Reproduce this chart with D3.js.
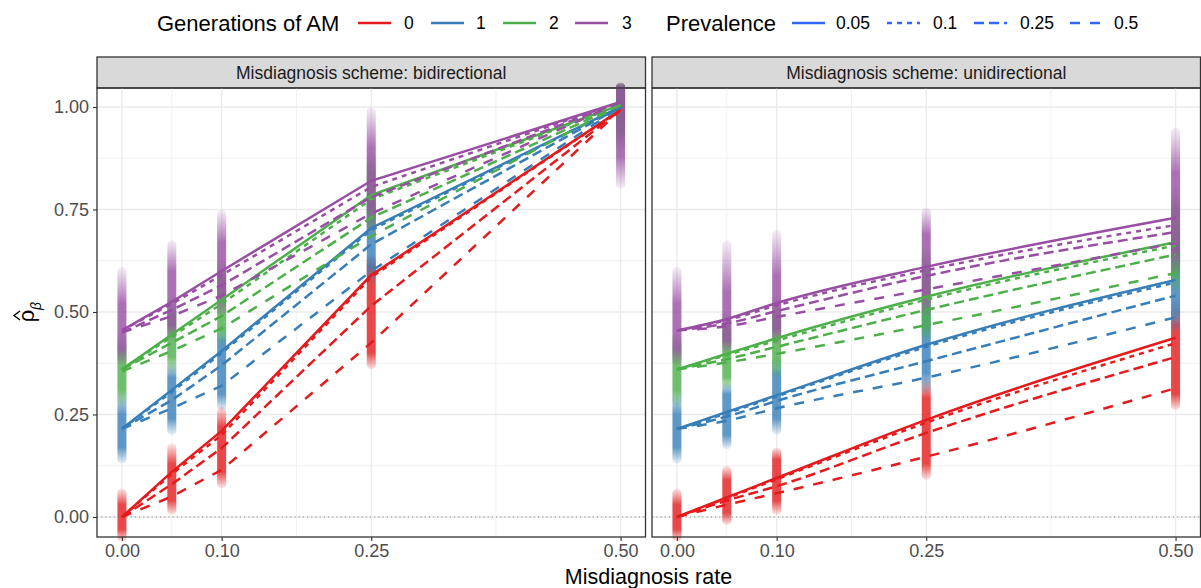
<!DOCTYPE html>
<html>
<head>
<meta charset="utf-8">
<script src="https://cdn.jsdelivr.net/npm/d3@7"></script>
<style>
  body { margin: 0; background: #fff; }
  text { font-family: "Liberation Sans", Arial, sans-serif; }
</style>
</head>
<body>
<script>
// categories
var misRates = [0, 0.05, 0.1, 0.25, 0.5];
var generations = ["0", "1", "2", "3"];
var prevalences = ["0.05", "0.1", "0.25", "0.5"];
var schemes = ["bidirectional", "unidirectional"];
var yTicks = [0, 0.25, 0.5, 0.75, 1];
var xTicks = [0, 0.1, 0.25, 0.5];
var xMinor = [0.05, 0.175, 0.375];
var yMinor = [0.125, 0.375, 0.625, 0.875];

// mean estimate per misdiagnosis rate, [generation][prevalence]
var bidirectional = [
  [[0, 0.110, 0.210, 0.590, 0.993], [0, 0.105, 0.200, 0.585, 0.993], [0, 0.080, 0.168, 0.515, 0.993], [0, 0.050, 0.115, 0.425, 0.993]],
  [[0.215, 0.310, 0.405, 0.705, 1.0], [0.215, 0.305, 0.400, 0.700, 1.0], [0.215, 0.285, 0.370, 0.665, 1.0], [0.215, 0.265, 0.320, 0.600, 1.0]],
  [[0.360, 0.445, 0.530, 0.785, 1.005], [0.360, 0.440, 0.520, 0.775, 1.005], [0.360, 0.425, 0.490, 0.730, 1.005], [0.355, 0.405, 0.460, 0.685, 1.005]],
  [[0.455, 0.525, 0.600, 0.820, 1.012], [0.455, 0.520, 0.590, 0.805, 1.012], [0.450, 0.505, 0.565, 0.780, 1.012], [0.450, 0.490, 0.540, 0.740, 1.012]]
];
var unidirectional = [
  [[0, 0.048, 0.095, 0.237, 0.437], [0, 0.046, 0.092, 0.230, 0.424], [0, 0.040, 0.075, 0.205, 0.390], [0, 0.030, 0.058, 0.147, 0.314]],
  [[0.215, 0.256, 0.297, 0.420, 0.578], [0.215, 0.253, 0.294, 0.415, 0.572], [0.215, 0.245, 0.283, 0.380, 0.540], [0.215, 0.235, 0.265, 0.340, 0.487]],
  [[0.360, 0.398, 0.436, 0.537, 0.670], [0.360, 0.395, 0.430, 0.530, 0.662], [0.360, 0.385, 0.415, 0.505, 0.640], [0.360, 0.377, 0.398, 0.468, 0.595]],
  [[0.455, 0.483, 0.522, 0.610, 0.730], [0.455, 0.480, 0.516, 0.602, 0.712], [0.455, 0.472, 0.502, 0.588, 0.695], [0.455, 0.465, 0.488, 0.555, 0.668]]
];

// spread of replicate estimates: [min, low, high, max] per generation and rate
var bidirectionalSpread = [
  [[-0.05, -0.03, 0.03, 0.06], [0.015, 0.04, 0.13, 0.17], [0.08, 0.11, 0.22, 0.26], [0.37, 0.40, 0.61, 0.63], [0.95, 0.97, 1.03, 1.05]],
  [[0.14, 0.17, 0.25, 0.30], [0.21, 0.24, 0.34, 0.37], [0.27, 0.30, 0.43, 0.46], [0.58, 0.61, 0.75, 0.79], [0.93, 0.96, 1.04, 1.05]],
  [[0.28, 0.31, 0.40, 0.44], [0.36, 0.39, 0.49, 0.53], [0.43, 0.46, 0.58, 0.62], [0.70, 0.73, 0.84, 0.88], [0.90, 0.94, 1.05, 1.05]],
  [[0.38, 0.41, 0.52, 0.60], [0.44, 0.47, 0.60, 0.665], [0.50, 0.54, 0.67, 0.74], [0.70, 0.76, 0.90, 0.99], [0.81, 0.88, 1.05, 1.05]]
];
var unidirectionalSpread = [
  [[-0.05, -0.03, 0.03, 0.06], [-0.01, 0.01, 0.09, 0.115], [0.015, 0.04, 0.14, 0.16], [0.10, 0.13, 0.29, 0.33], [0.27, 0.30, 0.47, 0.52]],
  [[0.14, 0.17, 0.25, 0.30], [0.175, 0.20, 0.30, 0.32], [0.21, 0.24, 0.35, 0.38], [0.31, 0.35, 0.50, 0.54], [0.46, 0.50, 0.66, 0.70]],
  [[0.28, 0.31, 0.40, 0.44], [0.32, 0.34, 0.45, 0.49], [0.35, 0.38, 0.49, 0.53], [0.44, 0.47, 0.60, 0.65], [0.56, 0.60, 0.74, 0.79]],
  [[0.38, 0.41, 0.52, 0.60], [0.41, 0.43, 0.55, 0.665], [0.43, 0.46, 0.59, 0.69], [0.50, 0.54, 0.69, 0.745], [0.60, 0.65, 0.84, 0.94]]
];

var means = { bidirectional: bidirectional, unidirectional: unidirectional };
var spreads = { bidirectional: bidirectionalSpread, unidirectional: unidirectionalSpread };

var genColor = d3.scaleOrdinal().domain(generations).range(["#E41A1C", "#377EB8", "#4DAF4A", "#984EA3"]);
var dashes = d3.scaleOrdinal().domain(prevalences).range(["none", "5,5", "10,5", "10,10"]);

var svg = d3.select("body").append("svg")
  .attr("width", 1201)
  .attr("height", 588);
var defs = svg.append("defs");

var panelTop = 88, panelBottom = 537;
var y = d3.scaleLinear().domain([-0.0488, 1.0463]).range([panelBottom, panelTop]);

var panels = [
  { scheme: "bidirectional", x0: 97, x1: 645.5, curve: d3.curveLinear },
  { scheme: "unidirectional", x0: 652, x1: 1200.5, curve: d3.curveMonotoneX }
];

panels.forEach(function(p, pi) {
  var x = d3.scaleLinear().domain([-0.025, 0.525]).range([p.x0, p.x1]);
  var g = svg.append("g");

  // strip
  g.append("rect")
    .attr("x", p.x0).attr("y", 57)
    .attr("width", p.x1 - p.x0).attr("height", panelTop - 57)
    .attr("fill", "#D9D9D9").attr("stroke", "#333333").attr("stroke-width", 1.3);
  g.append("text")
    .attr("x", (p.x0 + p.x1) / 2).attr("y", 78.5)
    .attr("text-anchor", "middle")
    .attr("font-size", 17.5).attr("fill", "#1A1A1A")
    .text("Misdiagnosis scheme: " + p.scheme);

  // grid
  g.selectAll(".ymin").data(yMinor).enter().append("line")
    .attr("x1", p.x0).attr("x2", p.x1)
    .attr("y1", d => y(d)).attr("y2", d => y(d))
    .attr("stroke", "#EBEBEB").attr("stroke-width", 0.7);
  g.selectAll(".xmin").data(xMinor).enter().append("line")
    .attr("y1", panelTop).attr("y2", panelBottom)
    .attr("x1", d => x(d)).attr("x2", d => x(d))
    .attr("stroke", "#EBEBEB").attr("stroke-width", 0.7);
  g.selectAll(".ymaj").data(yTicks).enter().append("line")
    .attr("x1", p.x0).attr("x2", p.x1)
    .attr("y1", d => y(d)).attr("y2", d => y(d))
    .attr("stroke", "#EBEBEB").attr("stroke-width", 1.4);
  g.selectAll(".xmaj").data(xTicks).enter().append("line")
    .attr("y1", panelTop).attr("y2", panelBottom)
    .attr("x1", d => x(d)).attr("x2", d => x(d))
    .attr("stroke", "#EBEBEB").attr("stroke-width", 1.4);

  // replicate estimates (density bands)
  var spread = spreads[p.scheme];
  generations.forEach(function(gen, gi) {
    misRates.forEach(function(r, ri) {
      var s = spread[gi][ri];
      var top = y(s[3]) - 4, bot = y(s[0]) + 4, h = bot - top;
      var id = "gr" + pi + "_" + gi + "_" + ri;
      var grad = defs.append("linearGradient").attr("id", id)
        .attr("x1", 0).attr("x2", 0).attr("y1", 0).attr("y2", 1);
      var c = genColor(gen);
      grad.append("stop").attr("offset", 0).attr("stop-color", c).attr("stop-opacity", 0.08);
      grad.append("stop").attr("offset", (y(s[2]) - top) / h).attr("stop-color", c).attr("stop-opacity", 0.8);
      grad.append("stop").attr("offset", (y(s[1]) - top) / h).attr("stop-color", c).attr("stop-opacity", 0.8);
      grad.append("stop").attr("offset", 1).attr("stop-color", c).attr("stop-opacity", 0.08);
      g.append("rect")
        .attr("x", x(r) - 4.5).attr("width", 9)
        .attr("y", top).attr("height", h)
        .attr("rx", 4.5)
        .attr("fill", "url(#" + id + ")");
    });
  });

  // zero reference
  g.append("line")
    .attr("x1", p.x0).attr("x2", p.x1)
    .attr("y1", y(0)).attr("y2", y(0))
    .attr("stroke", "#8C8C8C").attr("stroke-width", 1)
    .attr("stroke-dasharray", "1.2,3");

  // mean lines
  var line = d3.line()
    .x((d, i) => x(misRates[i]))
    .y(d => y(d))
    .curve(p.curve);
  var m = means[p.scheme];
  generations.forEach(function(gen, gi) {
    prevalences.forEach(function(pr, k) {
      g.append("path")
        .datum(m[gi][k])
        .attr("d", line)
        .attr("fill", "none")
        .attr("stroke", genColor(gen))
        .attr("stroke-width", 2.5)
        .attr("stroke-dasharray", dashes(pr));
    });
  });

  // border
  g.append("rect")
    .attr("x", p.x0).attr("y", panelTop)
    .attr("width", p.x1 - p.x0).attr("height", panelBottom - panelTop)
    .attr("fill", "none").attr("stroke", "#333333").attr("stroke-width", 1.3);

  // x axis
  var xa = g.append("g")
    .attr("transform", "translate(0," + panelBottom + ")")
    .call(d3.axisBottom(x).tickValues(xTicks).tickFormat(d3.format(".2f")).tickSize(4).tickPadding(3));
  xa.select(".domain").remove();
  xa.selectAll("line").attr("stroke", "#333333").attr("stroke-width", 1.1);
  xa.selectAll("text").attr("font-size", 18).attr("fill", "#4D4D4D")
    .attr("font-family", "Liberation Sans, Arial, sans-serif");

  if (pi === 0) {
    var ya = g.append("g")
      .attr("transform", "translate(" + p.x0 + ",0)")
      .call(d3.axisLeft(y).tickValues(yTicks).tickFormat(d3.format(".2f")).tickSize(4).tickPadding(4));
    ya.select(".domain").remove();
    ya.selectAll("line").attr("stroke", "#333333").attr("stroke-width", 1.1);
    ya.selectAll("text").attr("font-size", 18).attr("fill", "#4D4D4D")
      .attr("font-family", "Liberation Sans, Arial, sans-serif");
  }
});

// axis titles
svg.append("text")
  .attr("x", 648.5).attr("y", 584)
  .attr("text-anchor", "middle")
  .attr("font-size", 21.5)
  .text("Misdiagnosis rate");

var yt = svg.append("g").attr("transform", "translate(34,316) rotate(-90)");
yt.append("text")
  .attr("x", 0).attr("y", 0)
  .attr("text-anchor", "middle")
  .attr("font-size", 22)
  .text("ρ");
yt.append("path")
  .attr("d", "M-4,-14 L0.5,-20 L5,-14")
  .attr("fill", "none").attr("stroke", "#000").attr("stroke-width", 1.4);
yt.append("text")
  .attr("x", 6).attr("y", 7)
  .attr("font-size", 14)
  .attr("font-style", "italic")
  .text("β");

// legend
var lg = svg.append("g");
var legY = 23;
lg.append("text").attr("x", 157).attr("y", legY + 7.5).attr("font-size", 22).text("Generations of AM");
var genKeys = [358, 431, 503, 575];
var genLabels = [404, 476, 549, 622];
generations.forEach(function(gen, i) {
  lg.append("line")
    .attr("x1", genKeys[i]).attr("x2", genKeys[i] + 33)
    .attr("y1", legY).attr("y2", legY)
    .attr("stroke", genColor(gen)).attr("stroke-width", 2.5);
  lg.append("text").attr("x", genLabels[i]).attr("y", legY + 6.3)
    .attr("font-size", 17.5).text(gen);
});
lg.append("text").attr("x", 666).attr("y", legY + 7.5).attr("font-size", 22).text("Prevalence");
var prevKeys = [792, 887, 974, 1070];
var prevLabels = [836, 933, 1020, 1114];
prevalences.forEach(function(pr, i) {
  lg.append("line")
    .attr("x1", prevKeys[i]).attr("x2", prevKeys[i] + 33)
    .attr("y1", legY).attr("y2", legY)
    .attr("stroke", "#3366FF").attr("stroke-width", 2.5)
    .attr("stroke-dasharray", dashes(pr));
  lg.append("text").attr("x", prevLabels[i]).attr("y", legY + 6.3)
    .attr("font-size", 17.5).text(pr);
});
</script>
</body>
</html>
